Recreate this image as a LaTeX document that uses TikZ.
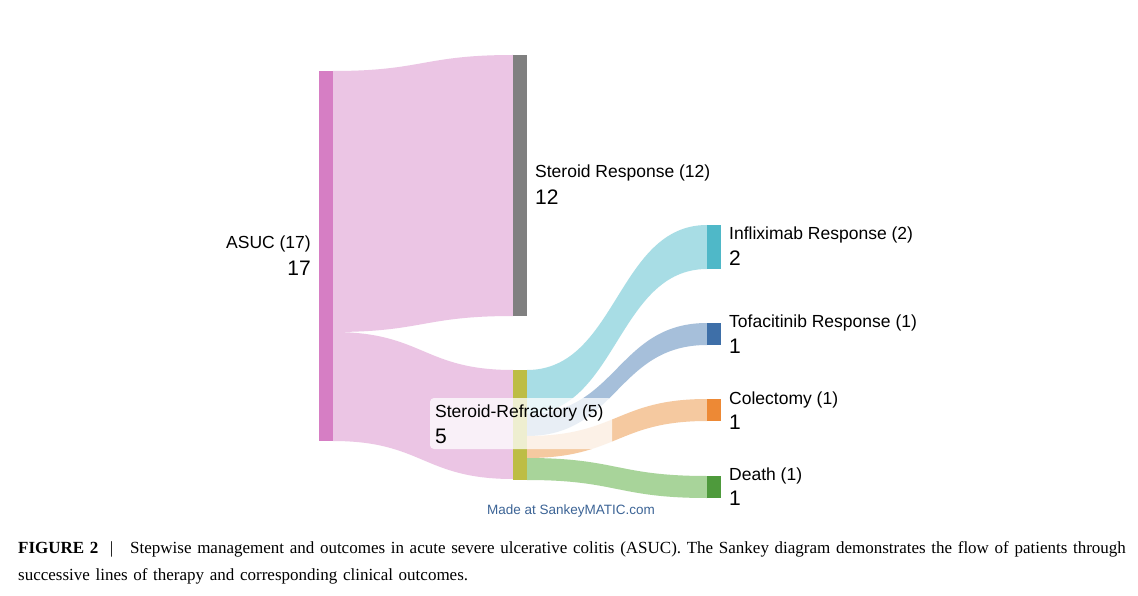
\documentclass[tikz,border=0pt]{standalone}
\usepackage{fontspec}
\setmainfont{Liberation Sans}
\newfontfamily\capfont{Liberation Serif}
\definecolor{pinkbar}{HTML}{D67EC4}
\definecolor{pinkflow}{HTML}{EBC5E4}
\definecolor{graybar}{HTML}{808080}
\definecolor{olive}{HTML}{BDBD45}
\definecolor{cyanbar}{HTML}{4FB8C8}
\definecolor{cyanflow}{HTML}{A8DDE5}
\definecolor{bluebar}{HTML}{3E6FA8}
\definecolor{blueflow}{HTML}{A6BFDA}
\definecolor{orbar}{HTML}{ED8935}
\definecolor{orflow}{HTML}{F5C9A0}
\definecolor{grbar}{HTML}{4E9A3C}
\definecolor{grflow}{HTML}{A8D49A}
\definecolor{linkblue}{HTML}{3C6496}
\newcommand{\sflow}[7]{\fill[#7] (#1,-#2) .. controls ({(#1+#4)/2},-#2) and ({(#1+#4)/2},-#5) .. (#4,-#5) -- (#4,-#6) .. controls ({(#1+#4)/2},-#6) and ({(#1+#4)/2},-#3) .. (#1,-#3) -- cycle;}
\begin{document}
\begin{tikzpicture}[x=1pt,y=1pt,
  lab/.style={anchor=west,font=\fontsize{17.5}{20}\selectfont,inner sep=0},
  num/.style={anchor=west,font=\fontsize{21}{24}\selectfont,inner sep=0}]
\useasboundingbox[fill=white] (0,0) rectangle (1138,-596);
% flows
\sflow{333}{71}{332}{513}{55}{316}{pinkflow}
\sflow{333}{332}{441}{513}{370}{479}{pinkflow}
\sflow{527}{370}{414}{707}{225}{269}{cyanflow}
\sflow{527}{414}{436}{707}{323}{345}{blueflow}
\sflow{527}{436}{458}{707}{399}{421}{orflow}
\sflow{527}{458}{480}{707}{476}{498}{grflow}
% bars
\fill[pinkbar] (319,-71) rectangle (333,-441);
\fill[graybar] (513,-55) rectangle (527,-316);
\fill[olive] (513,-370) rectangle (527,-480);
\fill[cyanbar] (707,-225) rectangle (721,-269);
\fill[bluebar] (707,-323) rectangle (721,-345);
\fill[orbar] (707,-399) rectangle (721,-421);
\fill[grbar] (707,-476) rectangle (721,-498);
% labels
\node[lab,anchor=east] (la) at (311,-244) {ASUC (17)};
\node[num,anchor=east] (na) at (311,-268) {17};
\node[lab] (l1) at (535,-173) {Steroid Response (12)};
\node[num] (n1) at (535,-197) {12};
\fill[white,opacity=0.75,rounded corners=4pt] (430,-398) rectangle (612,-449);
\node[lab] (l2) at (435,-413) {Steroid-Refractory (5)};
\node[num] (n2) at (435,-436) {5};
\node[lab] (l3) at (729,-235) {Infliximab Response (2)};
\node[num] (n3) at (729,-258) {2};
\node[lab] (l4) at (729,-323) {Tofacitinib Response (1)};
\node[num] (n4) at (729,-346) {1};
\node[lab] (l5) at (729,-400) {Colectomy (1)};
\node[num] (n5) at (729,-422) {1};
\node[lab] (l6) at (729,-476) {Death (1)};
\node[num] (n6) at (729,-498) {1};
\node[font=\fontsize{13.5}{15}\selectfont,text=linkblue,inner sep=0] (mk) at (571,-511) {Made at SankeyMATIC.com};
\node[anchor=north west,inner sep=0,text width=1115pt,align=left,font=\capfont\fontsize{17}{27}\selectfont] (cap) at (18,-541)
{\textbf{FIGURE 2}\enspace\,|\enspace\, Stepwise management and outcomes in acute severe ulcerative colitis (ASUC). The Sankey diagram demonstrates the flow of patients through successive lines of therapy and corresponding clinical outcomes.};
\end{tikzpicture}
\end{document}
